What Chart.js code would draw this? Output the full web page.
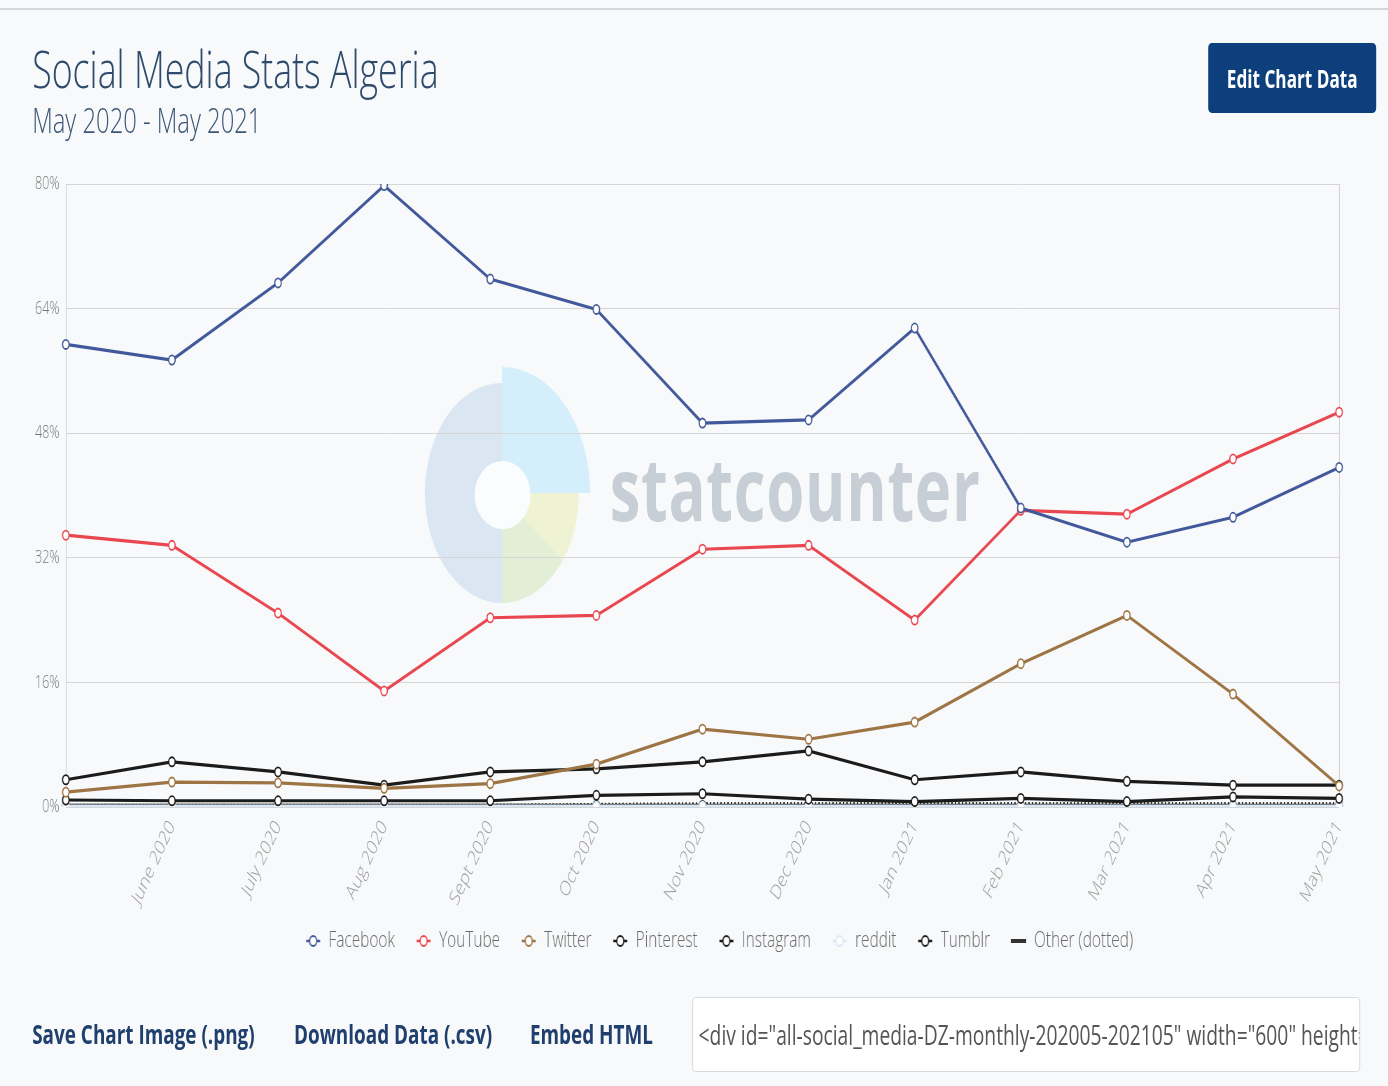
<!DOCTYPE html>
<html>
<head>
<meta charset="utf-8">
<script src="https://cdn.jsdelivr.net/npm/chart.js@4.4.1/dist/chart.umd.min.js"></script>
<style>
  html, body { margin:0; padding:0; background:#f8f9fb; overflow:hidden; }
  body { width:1388px; height:1086px; position:relative; font-family:'Open Sans', sans-serif; }
  #wrap { position:absolute; left:0; top:0; width:1983px; height:1086px; transform:scaleX(0.7); transform-origin:0 0; }
  .abs { position:absolute; white-space:nowrap; }
  #topline { position:absolute; left:0; top:8px; width:1983px; height:2px; background:#d3d7dc; }
  #title { left:46px; top:43px; font-size:51px; line-height:51px; font-weight:300; color:#2f4b6c; }
  #subtitle { left:46px; top:103px; font-size:34px; line-height:34px; font-weight:300; color:#3c5676; }
  #btn { left:1726px; top:43px; width:240px; height:70px; background:#0d3f7d; border-radius:5px; color:#fff;
         font-size:24.5px; font-weight:700; display:flex; align-items:center; justify-content:center; }
  .link { top:1020px; font-size:27px; line-height:27px; font-weight:700; color:#1f3f6e; }
  #embed { left:989px; top:997px; width:954px; height:75px; background:#fff; border:1px solid #cfd3d8; border-radius:5px;
           box-sizing:border-box; overflow:hidden; font-size:27.5px; color:#555; line-height:73px; padding-left:8px; white-space:nowrap; }
  #chartbox { position:absolute; left:0; top:170px; width:1983px; height:792px; }
  .wm { position:absolute; border-radius:50%; }
  #wm-big { left:591px; top:367px; width:252px; height:252px; background:conic-gradient(#d4eefb 0deg 90deg, transparent 90deg 360deg); }
  #wm-main { left:607px; top:383px; width:220px; height:220px;
             background:conic-gradient(transparent 0deg 90deg, #eff3d3 90deg 128deg, #e2efd6 128deg 180deg, #dae7f3 180deg 360deg); }
  #wm-hole { left:678px; top:461px; width:80px; height:68px; background:#fbfcfd; }
  #wm-text { left:871px; top:443px; font-size:88px; line-height:88px; font-weight:700; color:#c7ced6; letter-spacing:1px; }
</style>
</head>
<body>
<div id="wrap">
  <div id="topline"></div>
  <div id="title" class="abs">Social Media Stats Algeria</div>
  <div id="subtitle" class="abs">May 2020 - May 2021</div>
  <div id="btn" class="abs">Edit Chart Data</div>

  <div id="wm-big" class="wm"></div>
  <div id="wm-main" class="wm"></div>
  <div id="wm-hole" class="wm"></div>
  <div id="wm-text" class="abs">statcounter</div>

  <div id="chartbox"><canvas id="c" width="1983" height="792"></canvas></div>

  <div class="abs link" style="left:46px;">Save Chart Image (.png)</div>
  <div class="abs link" style="left:420px;">Download Data (.csv)</div>
  <div class="abs link" style="left:757px;">Embed HTML</div>
  <div id="embed" class="abs">&lt;div id="all-social_media-DZ-monthly-202005-202105" width="600" height="400" style="width:600px; height: 400px;"&gt;&lt;/div&gt;</div>
</div>

<script>
// ---- data ----
const months = ['May 2020','June 2020','July 2020','Aug 2020','Sept 2020','Oct 2020','Nov 2020','Dec 2020','Jan 2021','Feb 2021','Mar 2021','Apr 2021','May 2021'];
const facebook  = [59.4, 57.4, 67.3, 79.8, 67.8, 63.9, 49.3, 49.7, 61.5, 38.4, 34.0, 37.2, 43.6];
const youtube   = [34.9, 33.6, 24.9, 14.9, 24.3, 24.6, 33.1, 33.6, 24.0, 38.1, 37.6, 44.7, 50.7];
const twitter   = [1.9, 3.2, 3.1, 2.4, 3.0, 5.5, 10.0, 8.7, 10.9, 18.4, 24.6, 14.5, 2.7];
const pinterest = [3.5, 5.8, 4.5, 2.8, 4.5, 4.9, 5.8, 7.2, 3.5, 4.5, 3.3, 2.8, 2.8];
const instagram = [0.9, 0.8, 0.8, 0.8, 0.8, 1.5, 1.7, 1.0, 0.7, 1.1, 0.7, 1.3, 1.1];
const reddit    = [0.1, 0.1, 0.1, 0.1, 0.1, 0.1, 0.1, 0.1, 0.1, 0.1, 0.1, 0.1, 0.1];
const tumblr    = [0.2, 0.2, 0.2, 0.2, 0.2, 0.2, 0.2, 0.2, 0.2, 0.2, 0.2, 0.2, 0.2];
const other     = [0.3, 0.3, 0.3, 0.3, 0.3, 0.4, 0.5, 0.5, 0.5, 0.5, 0.5, 0.5, 0.5];
const yTicks    = [0, 16, 32, 48, 64, 80];

// ---- layout constants (unscaled px inside the 0.7 x-scaled wrapper) ----
const CHART_LEFT = 94, CHART_RIGHT_PAD = 70, CHART_TOP_PAD = 14;
const CANVAS_H = 792, CHART_BOTTOM = 637; // 807 - 170
const LEG_FONT = 22, LEG_PAD = 30, LEG_SHIFT = 36;
const LEG_H = LEG_FONT + LEG_PAD + 10;
const X_AXIS_H = CANVAS_H - LEG_H - CHART_BOTTOM;

function icon(color, isLine) {
  const c = document.createElement('canvas');
  c.width = 22; c.height = 14;
  const g = c.getContext('2d');
  g.strokeStyle = color; g.lineWidth = isLine ? 4 : 2.5;
  g.beginPath(); g.moveTo(isLine ? 0 : 1, 7); g.lineTo(isLine ? 22 : 21, 7); g.stroke();
  if (!isLine) {
    g.beginPath(); g.arc(11, 7, 5, 0, Math.PI * 2);
    g.fillStyle = '#fff'; g.fill(); g.lineWidth = 1.8; g.stroke();
  }
  return c;
}

const BLACK = '#1b1b1b';
const series = [
  {label:'Facebook',  data:facebook,  color:'#41599a'},
  {label:'YouTube',   data:youtube,   color:'#e9474f'},
  {label:'Twitter',   data:twitter,   color:'#9d7443'},
  {label:'Pinterest', data:pinterest, color:BLACK},
  {label:'Instagram', data:instagram, color:BLACK},
  {label:'reddit',    data:reddit,    color:'#d9e8f6'},
  {label:'Tumblr',    data:tumblr,    color:BLACK},
  {label:'Other (dotted)', data:other, color:'#333333', dotted:true}
];

const datasets = series.map(s => ({
  label: s.label,
  data: s.data,
  borderColor: s.color,
  backgroundColor: '#ffffff',
  borderWidth: s.dotted ? 2 : 3.2,
  borderDash: s.dotted ? [2, 3] : [],
  pointRadius: s.dotted ? 0 : 4.6,
  pointBorderWidth: 1.8,
  pointBackgroundColor: '#ffffff',
  pointBorderColor: s.color,
  tension: 0,
  fill: false
}));
const icons = series.map(s => icon(s.color, !!s.dotted));

// shifts the legend to the reference's centre and widens the x-label clip box
const layoutTweak = {
  id: 'layoutTweak',
  afterLayout(chart) {
    chart.legend.left += LEG_SHIFT;
    chart.legend.right += LEG_SHIFT;
    chart.scales.x.bottom += 40;
  }
};

new Chart(document.getElementById('c'), {
  type: 'line',
  data: { labels: months, datasets },
  plugins: [layoutTweak],
  options: {
    responsive: false,
    animation: false,
    layout: { padding: { left: 0, right: 0, top: CHART_TOP_PAD, bottom: 0 } },
    plugins: {
      tooltip: { enabled: false },
      legend: {
        position: 'bottom',
        align: 'center',
        labels: {
          usePointStyle: true,
          pointStyleWidth: 22,
          padding: LEG_PAD,
          color: '#6b6b6b',
          font: { family: 'Open Sans', size: LEG_FONT, weight: '300' },
          generateLabels(chart) {
            const items = Chart.defaults.plugins.legend.labels.generateLabels(chart);
            items.forEach((it, i) => { it.pointStyle = icons[i]; });
            return items;
          }
        }
      }
    },
    scales: {
      x: {
        type: 'category',
        offset: false,
        grid: {
          drawTicks: false,
          color: (ctx) => ctx.index === months.length - 1 ? '#cfcfcf' : 'rgba(0,0,0,0)',
          lineWidth: 1
        },
        border: { display: false },
        ticks: {
          autoSkip: false,
          minRotation: 57,
          maxRotation: 57,
          padding: 9,
          color: '#9c9c9c',
          font: { family: 'Open Sans', size: 21, weight: '300' },
          callback(v, i) { return i === 0 ? '' : months[i]; }
        },
        afterFit(scale) {
          scale.height = X_AXIS_H;
          scale.paddingLeft = 0;
          scale.paddingRight = CHART_RIGHT_PAD;
        }
      },
      y: {
        min: 0,
        max: 80,
        afterBuildTicks(scale) { scale.ticks = yTicks.map(v => ({ value: v })); },
        grid: { drawTicks: false, color: '#d6d6d6', lineWidth: 1 },
        border: { display: true, color: '#c4c4c4', width: 1 },
        ticks: {
          padding: 9,
          color: '#777',
          font: { family: 'Open Sans', size: 18, weight: '300' },
          callback(v) { return v + '%'; }
        },
        afterFit(scale) {
          scale.width = CHART_LEFT;
          scale.paddingTop = 0;
          scale.paddingBottom = 0;
        }
      }
    }
  }
});
</script>
</body>
</html>
